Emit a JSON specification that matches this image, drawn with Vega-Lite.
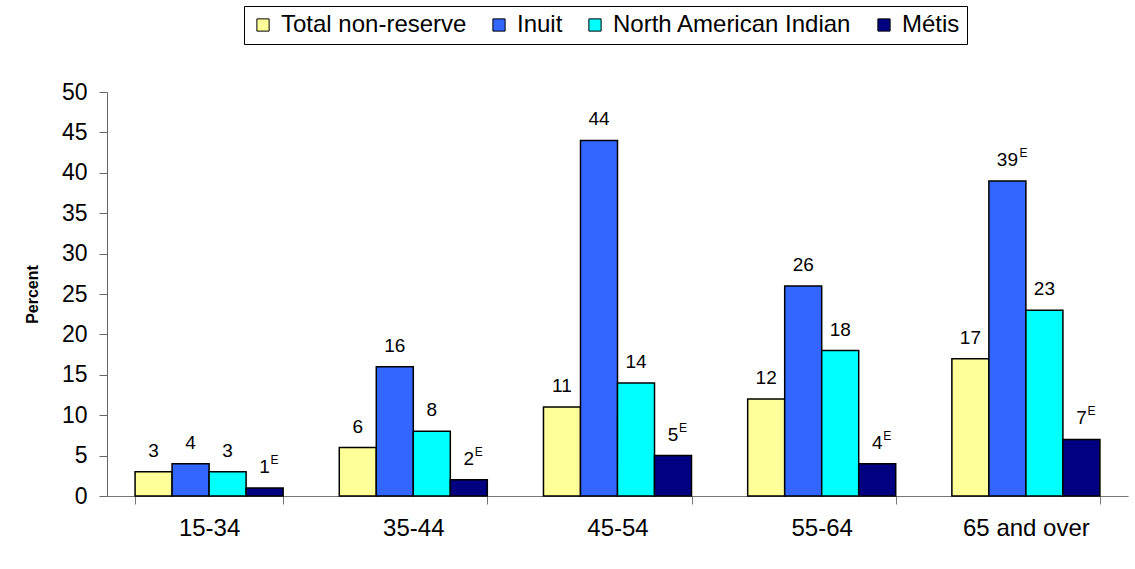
{
  "$schema": "https://vega.github.io/schema/vega-lite/v6.json",
  "width": 1021,
  "height": 404,
  "autosize": {"type": "none"},
  "padding": {"left": 107, "top": 92, "right": 7, "bottom": 73},
  "background": "white",
  "config": {
    "font": "Liberation Sans",
    "view": {"stroke": null}
  },
  "data": {
    "values": [
      {"age": "15-34", "group": "Total non-reserve", "value": 3, "flag": ""},
      {"age": "15-34", "group": "Inuit", "value": 4, "flag": ""},
      {"age": "15-34", "group": "North American Indian", "value": 3, "flag": ""},
      {"age": "15-34", "group": "Métis", "value": 1, "flag": "E"},
      {"age": "35-44", "group": "Total non-reserve", "value": 6, "flag": ""},
      {"age": "35-44", "group": "Inuit", "value": 16, "flag": ""},
      {"age": "35-44", "group": "North American Indian", "value": 8, "flag": ""},
      {"age": "35-44", "group": "Métis", "value": 2, "flag": "E"},
      {"age": "45-54", "group": "Total non-reserve", "value": 11, "flag": ""},
      {"age": "45-54", "group": "Inuit", "value": 44, "flag": ""},
      {"age": "45-54", "group": "North American Indian", "value": 14, "flag": ""},
      {"age": "45-54", "group": "Métis", "value": 5, "flag": "E"},
      {"age": "55-64", "group": "Total non-reserve", "value": 12, "flag": ""},
      {"age": "55-64", "group": "Inuit", "value": 26, "flag": ""},
      {"age": "55-64", "group": "North American Indian", "value": 18, "flag": ""},
      {"age": "55-64", "group": "Métis", "value": 4, "flag": "E"},
      {"age": "65 and over", "group": "Total non-reserve", "value": 17, "flag": ""},
      {"age": "65 and over", "group": "Inuit", "value": 39, "flag": "E"},
      {"age": "65 and over", "group": "North American Indian", "value": 23, "flag": ""},
      {"age": "65 and over", "group": "Métis", "value": 7, "flag": "E"}
    ]
  },
  "encoding": {
    "x": {
      "field": "age", "type": "nominal", "sort": null,
      "scale": {"paddingInner": 0.275, "paddingOuter": 0.1375},
      "axis": {
        "title": null, "labelAngle": 0, "labelFontSize": 24, "labelColor": "black",
        "labelPadding": 12, "tickBand": "extent", "tickSize": 8,
        "domainColor": "#777", "tickColor": "#777", "labelFont": "Liberation Sans"
      }
    },
    "xOffset": {
      "field": "group", "type": "nominal",
      "sort": ["Total non-reserve", "Inuit", "North American Indian", "Métis"],
      "scale": {"paddingInner": 0, "paddingOuter": 0}
    },
    "y": {
      "field": "value", "type": "quantitative",
      "scale": {"domain": [0, 50]},
      "axis": {
        "title": "Percent", "titleFontSize": 16, "titleFontWeight": "bold",
        "titleColor": "black", "titlePadding": 21,
        "values": [0, 5, 10, 15, 20, 25, 30, 35, 40, 45, 50],
        "labelFontSize": 23, "labelColor": "black", "labelPadding": 12,
        "tickSize": 8, "grid": false, "domainColor": "#666", "tickColor": "#666"
      }
    }
  },
  "layer": [
    {
      "mark": {"type": "bar", "stroke": "black", "strokeWidth": 1.5},
      "encoding": {
        "color": {
          "field": "group", "type": "nominal",
          "sort": ["Total non-reserve", "Inuit", "North American Indian", "Métis"],
          "scale": {
            "domain": ["Total non-reserve", "Inuit", "North American Indian", "Métis"],
            "range": ["#FFFF99", "#3366FF", "#00FFFF", "#000080"]
          },
          "legend": {
            "title": null, "orient": "none", "direction": "horizontal",
            "legendX": 137, "legendY": -86, "columns": 4,
            "labelFontSize": 24, "labelColor": "black", "labelFont": "Liberation Sans",
            "symbolType": "square", "symbolSize": 150, "symbolStrokeColor": "black",
            "symbolStrokeWidth": 1, "symbolOpacity": 1,
            "strokeColor": "black", "fillColor": "white", "padding": 7,
            "columnPadding": 20, "labelOffset": 6, "labelLimit": 400
          }
        }
      }
    },
    {
      "mark": {"type": "text", "fontSize": 19, "baseline": "alphabetic", "dy": -15, "color": "black"},
      "encoding": {
        "text": {"field": "value", "type": "quantitative"},
        "xOffset": {"field": "group", "type": "nominal", "sort": ["Total non-reserve", "Inuit", "North American Indian", "Métis"]}
      }
    },
    {
      "transform": [{"filter": "datum.flag == 'E' && datum.value < 10"}],
      "mark": {"type": "text", "fontSize": 12, "baseline": "alphabetic", "dy": -24, "dx": 10, "color": "black"},
      "encoding": {
        "text": {"field": "flag", "type": "nominal"}
      }
    },
    {
      "transform": [{"filter": "datum.flag == 'E' && datum.value >= 10"}],
      "mark": {"type": "text", "fontSize": 12, "baseline": "alphabetic", "dy": -24, "dx": 16, "color": "black"},
      "encoding": {
        "text": {"field": "flag", "type": "nominal"}
      }
    }
  ]
}
